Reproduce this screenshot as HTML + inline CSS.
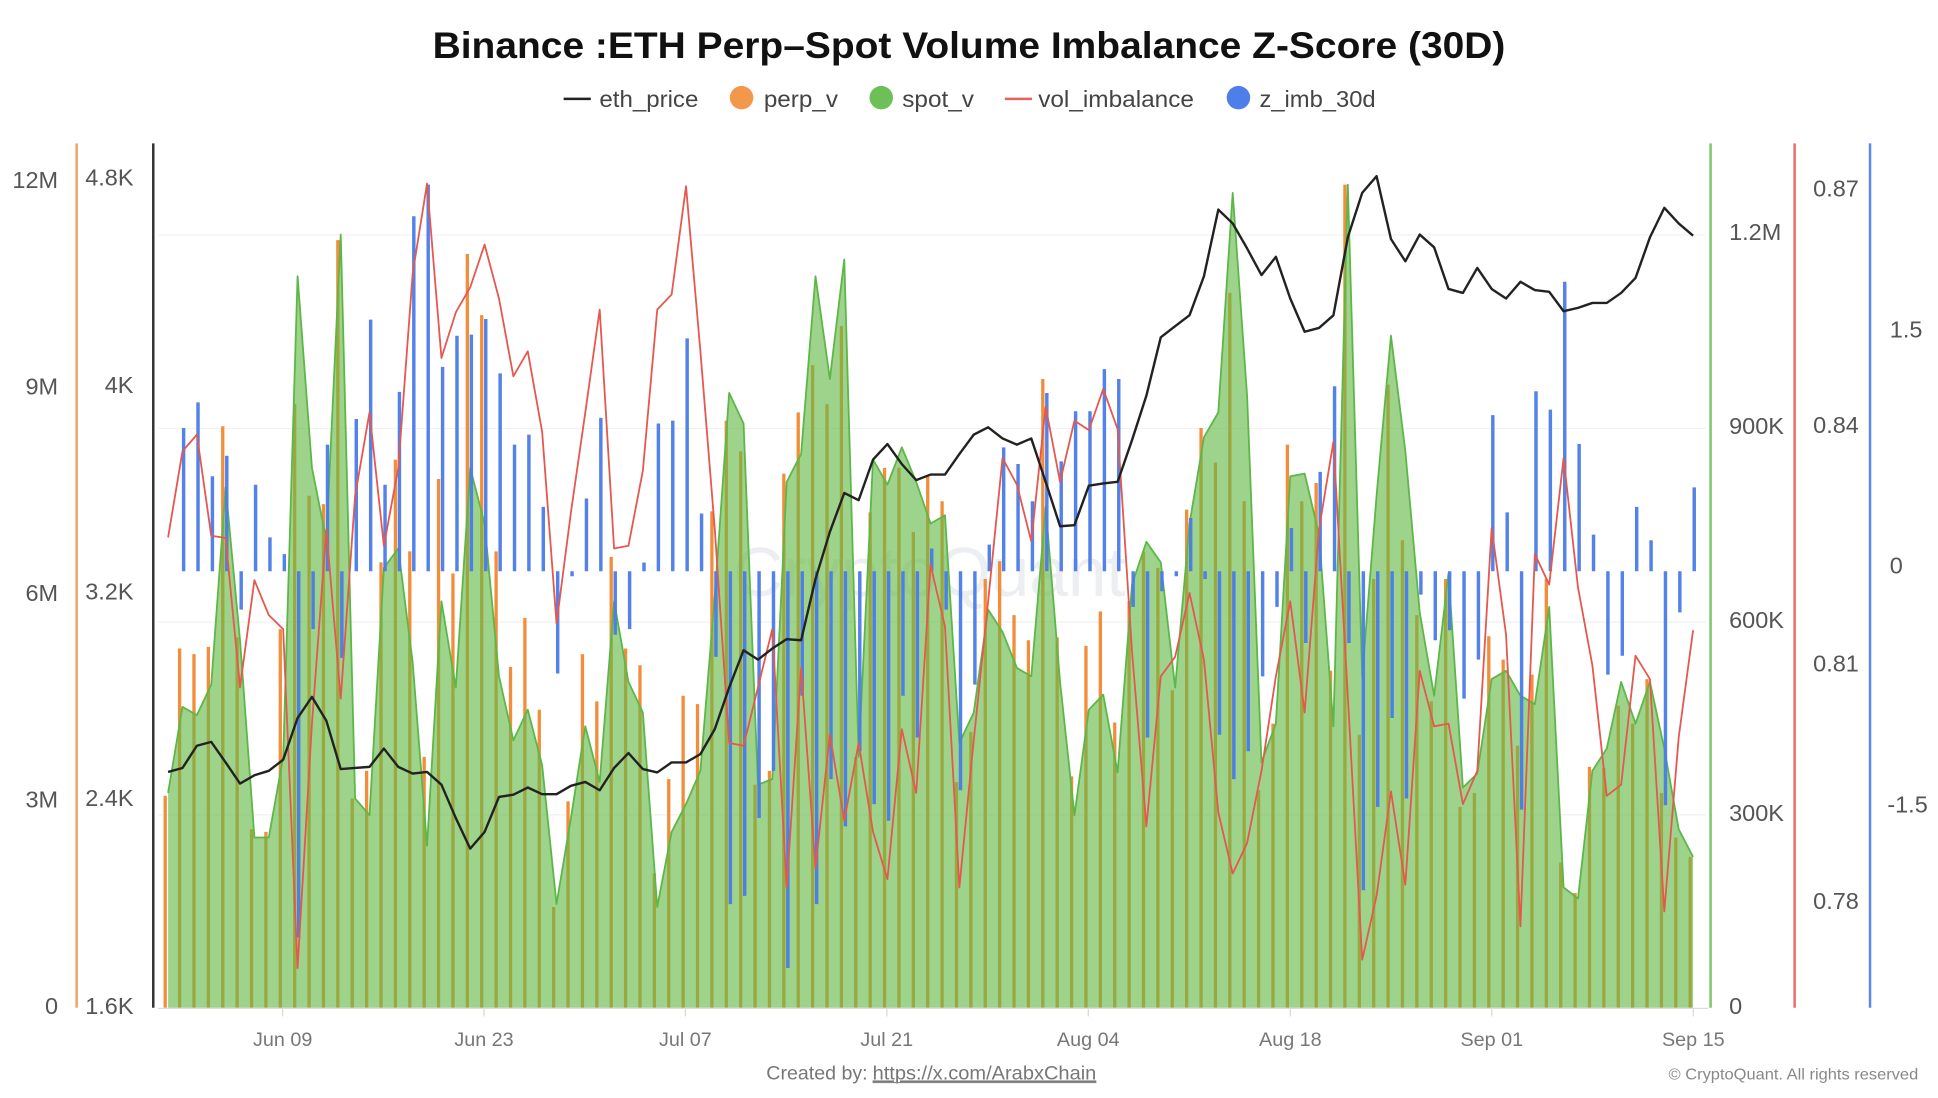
<!DOCTYPE html>
<html><head><meta charset="utf-8"><style>
html,body{margin:0;padding:0;background:#fff;}
svg{display:block;}
text{font-family:"Liberation Sans",Arial,sans-serif;}
</style></head><body>
<svg width="1938" height="1098" viewBox="0 0 1568 888" preserveAspectRatio="none" xmlns="http://www.w3.org/2000/svg">
<rect width="1568" height="888" fill="#fff"/>
<text x="784" y="47" text-anchor="middle" font-size="30" font-weight="bold" fill="#111" textLength="868" lengthAdjust="spacingAndGlyphs">Binance :ETH Perp–Spot Volume Imbalance Z-Score (30D)</text>
<line x1="456" y1="80" x2="478" y2="80" stroke="#222" stroke-width="2"/>
<text x="485" y="86.5" font-size="19" fill="#444" textLength="80" lengthAdjust="spacingAndGlyphs">eth_price</text>
<circle cx="600" cy="79" r="9.5" fill="#f2984d"/>
<text x="618" y="86.5" font-size="19" fill="#444" textLength="60" lengthAdjust="spacingAndGlyphs">perp_v</text>
<circle cx="713" cy="79" r="9.5" fill="#6cc055"/>
<text x="730" y="86.5" font-size="19" fill="#444" textLength="58" lengthAdjust="spacingAndGlyphs">spot_v</text>
<line x1="813" y1="80" x2="835" y2="80" stroke="#e8615a" stroke-width="2"/>
<text x="840" y="86.5" font-size="19" fill="#444" textLength="126" lengthAdjust="spacingAndGlyphs">vol_imbalance</text>
<circle cx="1002" cy="79" r="9.5" fill="#4f7eea"/>
<text x="1019" y="86.5" font-size="19" fill="#444" textLength="94" lengthAdjust="spacingAndGlyphs">z_imb_30d</text>
<g stroke="#f1f1f1" stroke-width="1">
<line x1="128" y1="190" x2="1380" y2="190"/><line x1="128" y1="346.5" x2="1380" y2="346.5"/><line x1="128" y1="503" x2="1380" y2="503"/><line x1="128" y1="659" x2="1380" y2="659"/>
</g>
<text x="752" y="482" text-anchor="middle" font-size="56" fill="#e9eaef" opacity="0.8">CryptoQuant</text>
<g transform="translate(136,0) scale(11.64,1)">
<path transform="translate(-0.2,0)" fill="none" stroke="#f28e3b" stroke-width="0.23" d="M0 815V643.6M1 815V524.5M2 815V529M3 815V523.2M4 815V344.7M5 815V515.5M6 815V670.6M7 815V672.8M8 815V508.8M9 815V326.8M10 815V400.9M11 815V407.7M12 815V194.2M13 815V645.8M14 815V623.4M15 815V454.8M16 815V371.7M17 815V445.9M18 815V612.1M19 815V387.4M20 815V463.8M21 815V205.4M22 815V254.9M23 815V445.9M24 815V539.3M25 815V499.8M26 815V574M27 815V733.5M28 815V648.1M29 815V529M30 815V567.2M31 815V450.4M32 815V524.5M33 815V538M34 815V706.5M35 815V630.1M36 815V562.7M37 815V569.5M38 815V413.5M39 815V340.2M40 815V365M41 815V634.6M42 815V623.4M43 815V383M44 815V333.5M45 815V295.3M46 815V326.8M47 815V263.8M48 815V612.1M49 815V414.4M50 815V378.4M51 815V378.4M52 815V430.1M53 815V385.2M54 815V405.4M55 815V632.4M56 815V591.9M57 815V468.3M58 815V453.9M59 815V497.5M60 815V517.8M61 815V306.5M62 815V515.5M63 815V627.9M64 815V522.3M65 815V494.4M66 815V584.3M67 815V486.3M68 815V445.9M69 815V459.3M70 815V558.2M71 815V412.2M72 815V346.1M73 815V374M74 815V236.9M75 815V405.4M76 815V639.1M77 815V585.2M78 815V359.6M79 815V405.4M80 815V390.6M81 815V542.5M82 815V149.3M83 815V594.2M84 815V468.3M85 815V311M86 815V436.9M87 815V497.5M88 815V567.2M89 815V468.3M90 815V652.6M91 815V641.3M92 815V514.6M93 815V533.5M94 815V603.1M95 815V545.6M96 815V468.3M97 815V697.5M98 815V722.2M99 815V620.2M100 815V621.1M101 815V570.8M102 815V585.2M103 815V549.2M104 815V641.3M105 815V677.3M106 815V693"/>
<polygon fill="rgb(98,184,70)" fill-opacity="0.62" points="0,815 0,641.3 1,571.7 2,578.4 3,553.7 4,394.2 5,517.8 6,677.3 7,677.3 8,612.1 9,223.4 10,378.4 11,436.9 12,189.7 13,645.8 14,659.3 15,459.3 16,443.6 17,535.7 18,684 19,486.3 20,556 21,378.4 22,423.4 23,547 24,598.7 25,574 26,618.9 27,731.2 28,661.6 29,587.4 30,632.4 31,486.3 32,551.5 33,576.2 34,733.5 35,672.8 36,650.3 37,623.4 38,481.8 39,317.8 40,342.5 41,634.6 42,630.1 43,389.7 44,367.2 45,223.4 46,306.5 47,209.9 48,612.1 49,371.7 50,392 51,361.8 52,389.7 53,423.4 54,416.7 55,600.9 56,576.2 57,493 58,511 59,540.2 60,547 61,409.9 62,551.5 63,659.3 64,574 65,561.8 66,624.7 67,472.8 68,438.2 69,454.8 70,556 71,423.4 72,353.7 73,333.5 74,156 75,320 76,616.6 77,585.2 78,385.2 79,383 80,432.4 81,587.4 82,149.3 83,547 84,400.9 85,271.5 86,365 87,495.3 88,562.7 89,463.8 90,636.9 91,625.6 92,549.2 93,542.5 94,562.7 95,569.5 96,490.8 97,717.7 98,726.7 99,623.4 100,605.4 101,551.5 102,585.2 103,551.5 104,605.4 105,670.6 106,693 106,815"/>
<polyline fill="none" stroke="#5db748" stroke-width="1.8" vector-effect="non-scaling-stroke" stroke-linejoin="round" points="0,641.3 1,571.7 2,578.4 3,553.7 4,394.2 5,517.8 6,677.3 7,677.3 8,612.1 9,223.4 10,378.4 11,436.9 12,189.7 13,645.8 14,659.3 15,459.3 16,443.6 17,535.7 18,684 19,486.3 20,556 21,378.4 22,423.4 23,547 24,598.7 25,574 26,618.9 27,731.2 28,661.6 29,587.4 30,632.4 31,486.3 32,551.5 33,576.2 34,733.5 35,672.8 36,650.3 37,623.4 38,481.8 39,317.8 40,342.5 41,634.6 42,630.1 43,389.7 44,367.2 45,223.4 46,306.5 47,209.9 48,612.1 49,371.7 50,392 51,361.8 52,389.7 53,423.4 54,416.7 55,600.9 56,576.2 57,493 58,511 59,540.2 60,547 61,409.9 62,551.5 63,659.3 64,574 65,561.8 66,624.7 67,472.8 68,438.2 69,454.8 70,556 71,423.4 72,353.7 73,333.5 74,156 75,320 76,616.6 77,585.2 78,385.2 79,383 80,432.4 81,587.4 82,149.3 83,547 84,400.9 85,271.5 86,365 87,495.3 88,562.7 89,463.8 90,636.9 91,625.6 92,549.2 93,542.5 94,562.7 95,569.5 96,490.8 97,717.7 98,726.7 99,623.4 100,605.4 101,551.5 102,585.2 103,551.5 104,605.4 105,670.6 106,693"/>
<path transform="translate(0.08,0)" fill="none" stroke="#4a7be8" stroke-opacity="0.95" stroke-width="0.24" d="M1 462V346.1M2 462V325.4M3 462V385.2M4 462V368.6M5 462V493M6 462V392M7 462V434.6M8 462V448.1M9 462V758.2M10 462V508.8M11 462V359.6M12 462V532.1M13 462V338.9M14 462V258.5M15 462V392M16 462V316.9M17 462V174.9M18 462V149.3M19 462V296.7M20 462V271.5M21 462V270.6M22 462V258M23 462V302M24 462V359.6M25 462V351.5M26 462V409.9M27 462V544.7M28 462V466M29 462V403.2M30 462V338M31 462V513.3M32 462V508.8M33 462V454.9M34 462V342.5M35 462V340.2M36 462V273.7M37 462V415.3M38 462V531.2M39 462V731.2M40 462V724.5M41 462V661.6M42 462V623.4M43 462V782.9M44 462V562.7M45 462V731.2M46 462V630.1M47 462V668.3M48 462V607.6M49 462V650.3M50 462V663.8M51 462V562.7M52 462V596.4M53 462V443.6M54 462V493M55 462V639.1M56 462V553.7M57 462V440.5M58 462V361.8M59 462V375.3M60 462V405.4M61 462V317.8M62 462V373.1M63 462V332.6M64 462V332.6M65 462V298.5M66 462V306.5M67 462V490.8M68 462V596.4M69 462V478.2M70 462V466M71 462V418.9M72 462V468.3M73 462V594.2M74 462V630.1M75 462V607.6M76 462V547M77 462V490.8M78 462V427M79 462V520M80 462V381.6M81 462V312.4M82 462V520M83 462V720M84 462V652.6M85 462V580.7M86 462V645.8M87 462V480.9M88 462V517.8M89 462V509.7M90 462V565M91 462V533.5M92 462V335.7M93 462V414.4M94 462V654.8M95 462V316.4M96 462V331.3M97 462V227.9M98 462V359.1M99 462V432.4M100 462V545.6M101 462V530.3M102 462V409.9M103 462V436.9M104 462V651.2M105 462V495.3M106 462V394.2"/>
<polyline fill="none" stroke="#e5584f" stroke-width="1.8" vector-effect="non-scaling-stroke" stroke-linejoin="round" points="0,434.6 1,365 2,351.5 3,433.3 4,435.1 5,556 6,469.2 7,497.5 8,508.8 9,782.9 10,585.2 11,427.9 12,565 13,400.9 14,333.5 15,441.4 16,378.4 17,221.2 18,148.4 19,289.5 20,252.6 21,232.4 22,197.8 23,241.4 24,304.3 25,284.1 26,349.2 27,504.3 28,414.4 29,333.5 30,250.4 31,443.6 32,441.4 33,380.7 34,250.4 35,238.2 36,150.6 37,284.1 38,427.9 39,600.9 40,603.1 41,556 42,508.8 43,717.7 44,540.2 45,702 46,594.2 47,663.8 48,600.9 49,672.8 50,711 51,589.7 52,641.3 53,457.1 54,506.5 55,717.7 56,598.7 57,486.3 58,370.4 59,392 60,437.8 61,329 62,389.7 63,340.2 64,347.9 65,314.6 66,347 67,526.7 68,668.3 69,547 70,531.2 71,479.6 72,533.5 73,657.1 74,706.5 75,681.8 76,623.4 77,547 78,486.3 79,576.2 80,427.9 81,357.3 82,562.7 83,776.2 84,724.5 85,640 86,715.5 87,542.5 88,587.4 89,585.2 90,650.3 91,623.4 92,427 93,513.3 94,749.2 95,448.1 96,472.8 97,370.4 98,475.1 99,538 100,643.6 101,634.6 102,530.3 103,549.2 104,737.1 105,596.4 106,509.7"/>
<polyline fill="none" stroke="#222" stroke-width="2.4" vector-effect="non-scaling-stroke" stroke-linejoin="round" points="0,624.3 1,621.1 2,603.1 3,600 4,616.6 5,633.7 6,627 7,623.4 8,614.4 9,580.7 10,563.6 11,582.9 12,622 13,621.1 14,620.2 15,605.4 16,620.2 17,625.6 18,624.3 19,634.6 20,661.6 21,686.3 22,672.8 23,644.5 24,642.7 25,636.9 26,642.3 27,642.3 28,635.5 29,632.4 30,639.1 31,621.1 32,609 33,622 34,624.7 35,616.6 36,616.6 37,609.9 38,589.7 39,556 40,525.9 41,533.5 42,524.5 43,516.9 44,517.8 45,468.3 46,430.1 47,398.7 48,404.5 49,371.7 50,359.1 51,375.3 52,388.3 53,383.8 54,383.8 55,367.2 56,351.5 57,345.6 58,354.6 59,359.6 60,354.6 61,389.7 62,425.6 63,424.7 64,392.8 65,391 66,389.7 67,356 68,320 69,272.8 70,263.8 71,254.9 72,223.4 73,169.5 74,180.7 75,200.9 76,222.5 77,207.7 78,241.4 79,268.3 80,265.2 81,255 82,192 83,156 84,142.5 85,193.3 86,211.3 87,189.7 88,200 89,233.7 90,236.9 91,216.7 92,233.7 93,241.4 94,227.9 95,234.6 96,236 97,251.7 98,249 99,245 100,245 101,236.9 102,224.8 103,192 104,168.1 105,180.7 106,190.6"/>
</g>
<line x1="128" y1="815.5" x2="1382" y2="815.5" stroke="#dcdcdc" stroke-width="1"/>
<g stroke="#d8d8d8" stroke-width="1">
<line x1="228.7" y1="816" x2="228.7" y2="822"/><line x1="391.6" y1="816" x2="391.6" y2="822"/><line x1="554.5" y1="816" x2="554.5" y2="822"/><line x1="717.5" y1="816" x2="717.5" y2="822"/><line x1="880.5" y1="816" x2="880.5" y2="822"/><line x1="1044" y1="816" x2="1044" y2="822"/><line x1="1207" y1="816" x2="1207" y2="822"/><line x1="1370" y1="816" x2="1370" y2="822"/>
</g>
<line x1="62" y1="116" x2="62" y2="815" stroke="#f2a266" stroke-width="2"/>
<line x1="124" y1="116" x2="124" y2="815" stroke="#333" stroke-width="2"/>
<line x1="1384" y1="116" x2="1384" y2="815" stroke="#7cc66a" stroke-width="2"/>
<line x1="1452" y1="116" x2="1452" y2="815" stroke="#e96c6c" stroke-width="2"/>
<line x1="1513" y1="116" x2="1513" y2="815" stroke="#5a86ee" stroke-width="2"/>
<g font-size="19" fill="#555" text-anchor="end">
<text x="47" y="152">12M</text><text x="47" y="319">9M</text><text x="47" y="486">6M</text><text x="47" y="653">3M</text><text x="47" y="820">0</text>
<text x="108" y="150">4.8K</text><text x="108" y="318">4K</text><text x="108" y="485">3.2K</text><text x="108" y="652">2.4K</text><text x="108" y="820">1.6K</text>
</g>
<g font-size="19" fill="#555">
<text x="1399" y="194">1.2M</text><text x="1399" y="351">900K</text><text x="1399" y="508">600K</text><text x="1399" y="664">300K</text><text x="1399" y="820">0</text>
<text x="1467" y="159">0.87</text><text x="1467" y="350">0.84</text><text x="1467" y="543">0.81</text><text x="1467" y="735">0.78</text>
<text x="1529" y="273">1.5</text><text x="1529" y="464">0</text><text x="1527" y="657">-1.5</text>
</g>
<g font-size="16" fill="#777" text-anchor="middle">
<text x="228.7" y="846">Jun 09</text><text x="391.6" y="846">Jun 23</text><text x="554.5" y="846">Jul 07</text><text x="717.5" y="846">Jul 21</text><text x="880.5" y="846">Aug 04</text><text x="1044" y="846">Aug 18</text><text x="1207" y="846">Sep 01</text><text x="1370" y="846">Sep 15</text>
</g>
<text x="620" y="873" font-size="16" fill="#777" textLength="82" lengthAdjust="spacingAndGlyphs">Created by:</text>
<text x="706" y="873" font-size="16" fill="#777" text-decoration="underline" textLength="181" lengthAdjust="spacingAndGlyphs">https://x.com/ArabxChain</text>
<line x1="706" y1="875.5" x2="887" y2="875.5" stroke="#888" stroke-width="1"/>
<text x="1350" y="873" font-size="13" fill="#888" textLength="202" lengthAdjust="spacingAndGlyphs">© CryptoQuant. All rights reserved</text>
</svg>
</body></html>
